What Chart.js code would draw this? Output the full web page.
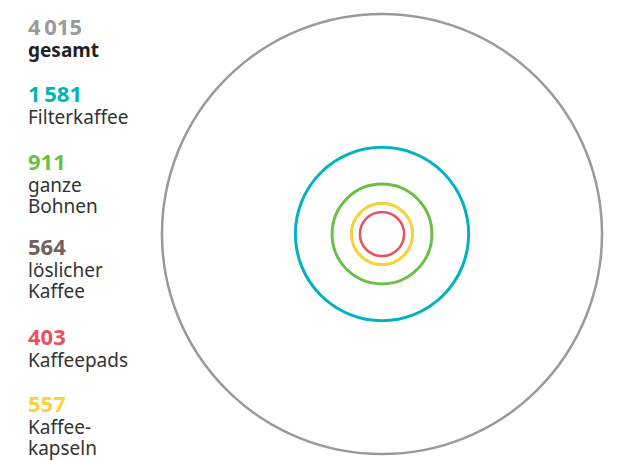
<!DOCTYPE html>
<html lang="de">
<head>
<meta charset="utf-8">
<script src="https://cdn.jsdelivr.net/npm/chart.js@4.4.1/dist/chart.umd.min.js"></script>
<style>
  body{margin:0;background:#fff;width:621px;height:461px;overflow:hidden;position:relative;font-family:"Noto Sans",sans-serif;}
  .block{position:absolute;left:28px;font-size:19px;line-height:21px;color:#333;}
  .zahl{font-weight:bold;font-size:22px;line-height:27px;}
  #wrap{position:absolute;left:157px;top:9px;width:450px;height:450px;}
</style>
</head>
<body>
<div id="legende"></div>
<div id="wrap"><canvas id="kreise"></canvas></div>
<script>
const kategorien = ["gesamt", "Filterkaffee", "ganze Bohnen", "löslicher Kaffee", "Kaffeepads", "Kaffeekapseln"];
const zeilen = [["gesamt"], ["Filterkaffee"], ["ganze", "Bohnen"], ["löslicher", "Kaffee"], ["Kaffeepads"], ["Kaffee-", "kapseln"]];
const werte = [4015, 1581, 911, 564, 403, 557];
const farben = ["#9a9a9a", "#00b4bf", "#6abf45", "#6f6259", "#e8525e", "#f8d33a"];
const linien = [2.5, 3, 3, 1.5, 2.5, 3];
const oben = [13, 80, 148, 233, 323, 390];

// Legende links
const legende = document.getElementById("legende");
kategorien.forEach((k, i) => {
  const div = document.createElement("div");
  div.className = "block";
  div.style.top = oben[i] + "px";
  const zahl = werte[i] >= 1000 ? String(werte[i]).replace(/(\d)(\d{3})$/, "$1\u2009$2") : String(werte[i]);
  let html = `<div class="zahl" style="color:${farben[i]}">${zahl}</div>`;
  zeilen[i].forEach(z => {
    html += i === 0 ? `<div style="font-weight:bold;color:#222">${z}</div>` : `<div>${z}</div>`;
  });
  div.innerHTML = html;
  legende.appendChild(div);
});

// Radius in Pixeln über die x-Skala (vor dem Layout noch NaN -> 0)
function radiusPx(chart, wert){
  const s = chart.scales.x;
  if(!s) return 0;
  const r = s.getPixelForValue(wert) - s.getPixelForValue(0);
  return isFinite(r) ? r : 0;
}

new Chart(document.getElementById("kreise"), {
  type: "scatter",
  data: {
    labels: kategorien,
    datasets: [{
      data: werte.map(() => ({x: 0, y: 0})),
      pointBackgroundColor: "rgba(0,0,0,0)",
      pointBorderColor: farben,
      pointBorderWidth: linien,
      pointRadius: ctx => radiusPx(ctx.chart, werte[ctx.dataIndex]),
      clip: false
    }]
  },
  options: {
    responsive: true,
    maintainAspectRatio: false,
    animation: false,
    events: [],
    layout: {padding: 5, autoPadding: false},
    plugins: {legend: {display: false}, tooltip: {enabled: false}},
    scales: {
      x: {display: false, min: -werte[0], max: werte[0]},
      y: {display: false, min: -werte[0], max: werte[0]}
    }
  }
});
</script>
</body>
</html>
